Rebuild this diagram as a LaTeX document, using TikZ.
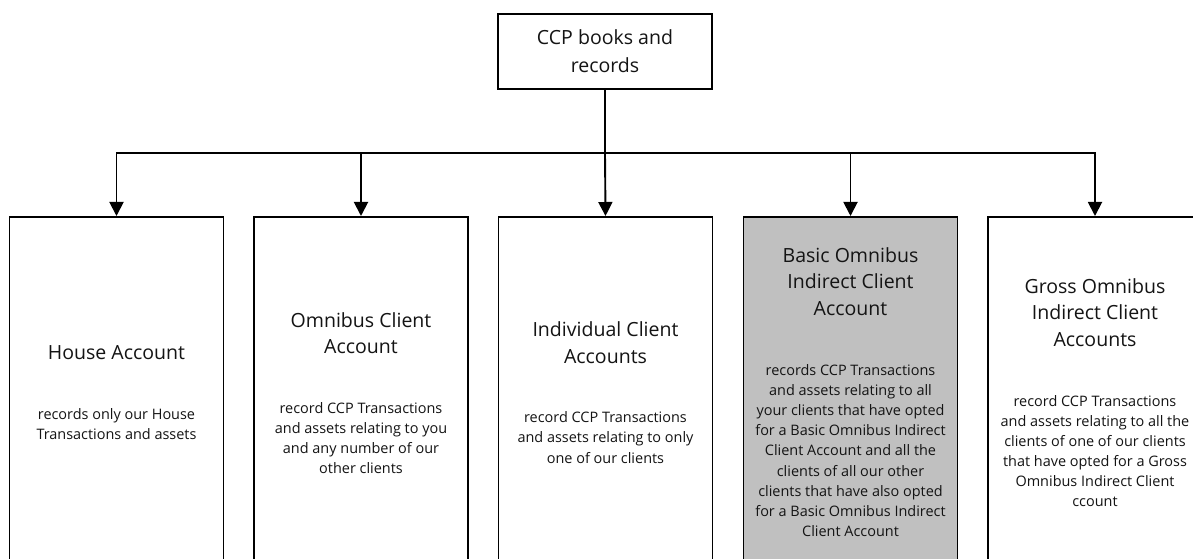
\documentclass[tikz,border=0pt]{standalone}
\usepackage{fontspec}
\setmainfont{Open Sans}
\usetikzlibrary{arrows.meta}
\definecolor{boxgrey}{RGB}{192,192,192}
\definecolor{ink}{RGB}{20,20,20}
\begin{document}
\begin{tikzpicture}[x=1bp,y=-1bp,
  acct/.style={draw, line width=1.9bp, minimum width=214bp, minimum height=355bp, inner sep=0pt, anchor=north},
  topbox/.style={draw, line width=1.9bp, minimum width=214bp, minimum height=75bp, inner sep=0pt, anchor=north, align=center, text=ink, font=\fontsize{19.6}{28.5}\selectfont},
  titletext/.style={align=center, inner sep=0pt, text=ink, font=\fontsize{19.6}{26.5}\selectfont},
  bodytext/.style={align=center, inner sep=0pt, text=ink, font=\fontsize{14.5}{20.2}\selectfont},
  arr/.style={line width=1.9bp, -{Triangle[width=14bp,length=14bp]}}]
\useasboundingbox (0,0) rectangle (1193,559);
\clip (0,0) rectangle (1193,559);
\fill[white] (0,0) rectangle (1193,559);

\node[topbox] (top) at (605,13) {CCP books and\\records};

\node[acct] (b1) at (116.5,216) {};
\node[acct] (b2) at (361,216) {};
\node[acct] (b3) at (605.5,216) {};
\node[acct, fill=boxgrey] (b4) at (850.5,216) {};
\node[acct] (b5) at (1095,216) {};

\coordinate (j) at (605,153);
\draw[line width=1.9bp] (top.south) -- (j);
\draw[arr] (j) -| (b1.north);
\draw[arr] (j) -| (b2.north);
\draw[arr] (j) -- (b3.north);
\draw[arr] (j) -| (b4.north);
\draw[arr] (j) -| (b5.north);

\node[titletext] (t1) at (116.5,353) {House Account};
\node[bodytext] (d1) at (116.5,424) {records only our House\\Transactions and assets};

\node[titletext] (t2) at (361,333) {Omnibus Client\\Account};
\node[bodytext] (d2) at (361,438) {record CCP Transactions\\and assets relating to you\\and any number of our\\other clients};

\node[titletext] (t3) at (605.5,342.5) {Individual Client\\Accounts};
\node[bodytext] (d3) at (605.5,437.5) {record CCP Transactions\\and assets relating to only\\one of our clients};

\node[titletext] (t4) at (850.5,281.5) {Basic Omnibus\\Indirect Client\\Account};
\node[bodytext] (d4) at (850.5,450.5) {records CCP Transactions\\and assets relating to all\\your clients that have opted\\for a Basic Omnibus Indirect\\Client Account and all the\\clients of all our other\\clients that have also opted\\for a Basic Omnibus Indirect\\Client Account};

\node[titletext] (t5) at (1095,312.5) {Gross Omnibus\\Indirect Client\\Accounts};
\node[bodytext] (d5) at (1095,451) {record CCP Transactions\\and assets relating to all the\\clients of one of our clients\\that have opted for a Gross\\Omnibus Indirect Client\\ccount};
\end{tikzpicture}
\end{document}
